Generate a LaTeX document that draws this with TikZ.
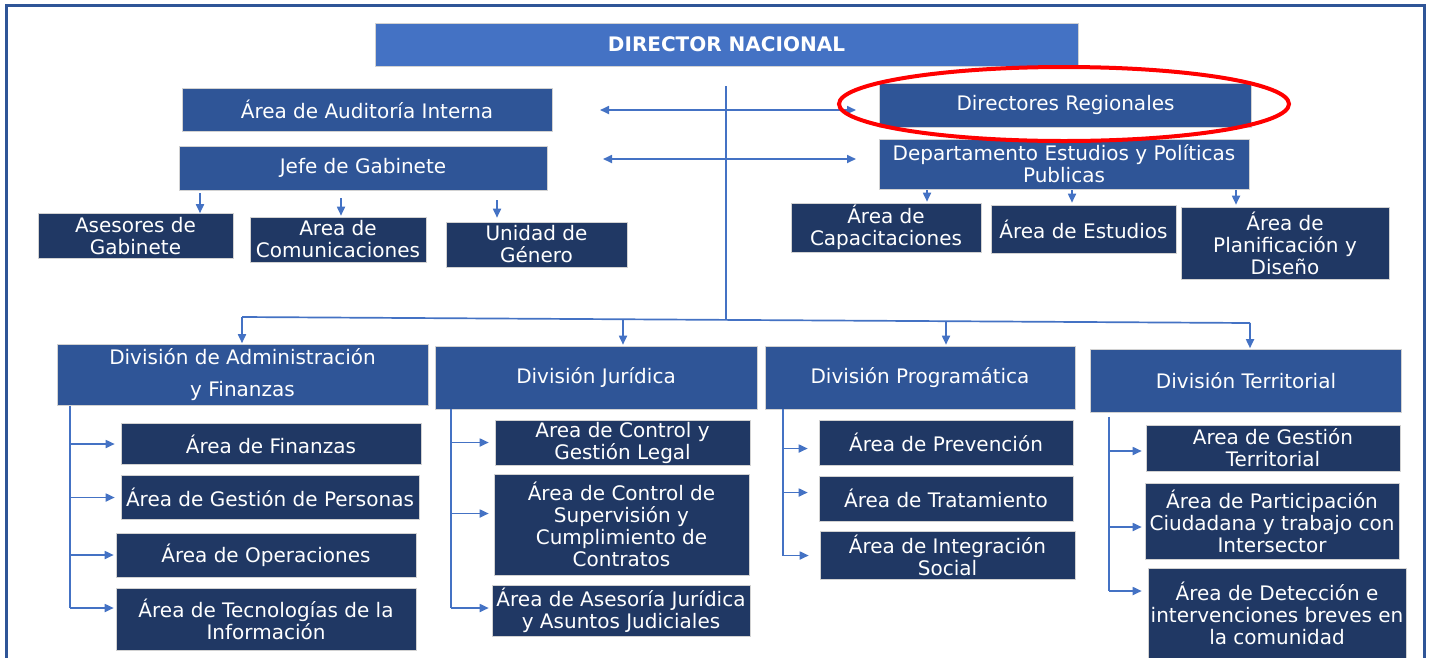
\documentclass[tikz,border=0pt]{standalone}
\usepackage{fontspec}
\setmainfont{DejaVu Sans}
\usetikzlibrary{arrows.meta,calc}
\definecolor{dirblue}{HTML}{4472C4}
\definecolor{midblue}{HTML}{2F5597}
\definecolor{darkblue}{HTML}{203864}
\definecolor{lineblue}{HTML}{4472C4}
\definecolor{frameblue}{HTML}{2F5597}
\tikzset{
  bx/.style={fill=#1, draw=gray!35, line width=0.6pt, text=white, align=center,
    inner sep=0pt, font=\fontsize{20pt}{22pt}\selectfont},
  ln/.style={draw=lineblue, line width=1.7pt},
  arr/.style={ln, -{Triangle[length=9pt,width=8pt]}},
  arrb/.style={ln, {Triangle[length=9pt,width=8pt]}-{Triangle[length=9pt,width=8pt]}},
}
\begin{document}
\begin{tikzpicture}[x=1pt,y=-1pt]
\useasboundingbox (0,0) rectangle (1429,657);
\fill[white] (0,0) rectangle (1429,657);
% frame
\draw[frameblue, line width=3pt] (6,700) -- (6,5) -- (1424,5) -- (1424,700);

% top level
\node[bx=dirblue, minimum width=703pt, minimum height=43pt, font=\fontsize{20pt}{22pt}\selectfont\bfseries] (dir) at (726.5,44.5) {DIRECTOR NACIONAL};
\node[bx=midblue, minimum width=370pt, minimum height=43pt] (aud) at (367,109.5) {Área de Auditoría Interna};
\node[bx=midblue, minimum width=368pt, minimum height=44pt] (jefe) at (363,168) {Jefe de Gabinete};
\node[bx=midblue, minimum width=372pt, minimum height=44pt] (dr) at (1065.5,105) {Directores Regionales};
\node[bx=midblue, minimum width=370pt, minimum height=50pt] (dep) at (1064,164) {Departamento Estudios y Políticas\\Publicas};

% under jefe
\node[bx=darkblue, minimum width=195pt, minimum height=45pt] (ase) at (135.5,236) {Asesores de\\Gabinete};
\node[bx=darkblue, minimum width=176pt, minimum height=45pt] (com) at (338,239.5) {Area de\\Comunicaciones};
\node[bx=darkblue, minimum width=181pt, minimum height=45pt] (gen) at (536.5,244.5) {Unidad de\\Género};

% under dep
\node[bx=darkblue, minimum width=190pt, minimum height=49pt] (cap) at (886,227.5) {Área de\\Capacitaciones};
\node[bx=darkblue, minimum width=185pt, minimum height=48pt] (est) at (1083.5,229) {Área de Estudios};
\node[bx=darkblue, minimum width=208pt, minimum height=72pt] (pla) at (1285,243) {Área de\\Planificación y\\Diseño};

% divisions
\node[bx=midblue, minimum width=371pt, minimum height=61pt, font=\fontsize{20pt}{32pt}\selectfont] (daf) at (242.5,375) {División de Administración\\y Finanzas};
\node[bx=midblue, minimum width=322pt, minimum height=63pt] (dju) at (596,377.5) {División Jurídica};
\node[bx=midblue, minimum width=310pt, minimum height=63pt] (dpr) at (920,377.5) {División Programática};
\node[bx=midblue, minimum width=311pt, minimum height=63pt] (dte) at (1246,381) {División Territorial};

% DAF areas
\node[bx=darkblue, minimum width=300pt, minimum height=41pt] (fin) at (271,444) {Área de Finanzas};
\node[bx=darkblue, minimum width=298pt, minimum height=44pt] (per) at (270,497.5) {Área de Gestión de Personas};
\node[bx=darkblue, minimum width=300pt, minimum height=44pt] (ope) at (266,555) {Área de Operaciones};
\node[bx=darkblue, minimum width=300pt, minimum height=62pt] (tec) at (266,619) {Área de Tecnologías de la\\Información};

% Juridica areas
\node[bx=darkblue, minimum width=255pt, minimum height=45pt] (cgl) at (622.5,442.5) {Area de Control y\\Gestión Legal};
\node[bx=darkblue, minimum width=255pt, minimum height=101pt] (csc) at (621.5,524.5) {Área de Control de\\Supervisión y\\Cumplimiento de\\Contratos};
\node[bx=darkblue, minimum width=258pt, minimum height=51pt] (aaj) at (621,610.5) {Área de Asesoría Jurídica\\y Asuntos Judiciales};

% Programatica areas
\node[bx=darkblue, minimum width=254pt, minimum height=45pt] (pre) at (946,442.5) {Área de Prevención};
\node[bx=darkblue, minimum width=254pt, minimum height=45pt] (tra) at (946,498.5) {Área de Tratamiento};
\node[bx=darkblue, minimum width=255pt, minimum height=48pt] (int) at (947.5,555.5) {Área de Integración\\Social};

% Territorial areas
\node[bx=darkblue, minimum width=254pt, minimum height=46pt] (gte) at (1273,448) {Area de Gestión\\Territorial};
\node[bx=darkblue, minimum width=254pt, minimum height=76pt] (par) at (1272,521) {Área de Participación\\Ciudadana y trabajo con\\Intersector};
\node[bx=darkblue, minimum width=258pt, minimum height=90pt] (det) at (1277,613) {Área de Detección e\\intervenciones breves en\\la comunidad};

% central trunk and bus
\coordinate (ctop) at (726,86);
\coordinate (busL) at (242,317);
\coordinate (busR) at (1250,323);
\coordinate (bD) at (242,317);
\coordinate (bJ) at (623,319.3);
\coordinate (bC) at (726,320);
\coordinate (bP) at (946,321.2);
\draw[ln] (ctop) -- (bC);
\draw[ln] (busL) -- (busR);
\draw[arr, shorten >=1pt] (bD) -- (bD |- daf.north);
\draw[arr, shorten >=1pt] (bJ) -- (bJ |- dju.north);
\draw[arr, shorten >=1pt] (bP) -- (bP |- dpr.north);
\draw[arr, shorten >=1pt] (busR) -- (busR |- dte.north);

% side double arrows
\coordinate (a1L) at (600,110);
\coordinate (a1R) at (856,110);
\coordinate (a2L) at (603,159);
\coordinate (a2R) at (856,159);
\draw[arrb] (a1L) -- (a1R);
\draw[arrb] (a2L) -- (a2R);

% jefe sub arrows
\draw[arr, shorten <=3pt] ([xshift=64.5pt]ase.north |- jefe.south) -- ([xshift=64.5pt]ase.north);
\draw[arr, shorten <=8pt, shorten >=1pt] ([xshift=3pt]com.north |- jefe.south) -- ([xshift=3pt]com.north);
\draw[arr, shorten <=10pt, shorten >=4pt] ([xshift=-39.5pt]gen.north |- jefe.south) -- ([xshift=-39.5pt]gen.north);

% dep sub arrows
\draw[arr, shorten <=1pt, shorten >=1pt] ([xshift=41pt]cap.north |- dep.south) -- ([xshift=41pt]cap.north);
\draw[arr, shorten <=1pt, shorten >=2pt] ([xshift=-11.5pt]est.north |- dep.south) -- ([xshift=-11.5pt]est.north);
\draw[arr, shorten <=1pt, shorten >=2pt] ([xshift=-49pt]pla.north |- dep.south) -- ([xshift=-49pt]pla.north);

% DAF branch
\coordinate (v1) at ([xshift=13pt]daf.south west);
\coordinate (tecA) at ([yshift=11pt]tec.west);
\draw[ln] (v1) -- (v1 |- tecA);
\draw[arr, shorten >=6pt] (v1 |- fin.west) -- (fin.west);
\draw[arr, shorten >=6pt] (v1 |- per.west) -- (per.west);
\draw[arr, shorten >=2pt] (v1 |- ope.west) -- (ope.west);
\draw[arr, shorten >=2pt] (v1 |- tecA) -- (tecA);

% Juridica branch
\coordinate (v2) at ([xshift=16pt]dju.south west);
\coordinate (cscA) at ([yshift=11pt]csc.west);
\coordinate (aajA) at ([yshift=2.5pt]aaj.west);
\draw[ln] (v2) -- (v2 |- aajA);
\draw[arr, shorten >=6pt] (v2 |- cgl.west) -- (cgl.west);
\draw[arr, shorten >=5pt] (v2 |- cscA) -- (cscA);
\draw[arr, shorten >=3pt] (v2 |- aajA) -- (aajA);

% Programatica branch
\coordinate (v3) at ([xshift=18pt]dpr.south west);
\coordinate (preA) at ([yshift=-6pt]pre.west);
\coordinate (traA) at ([yshift=6pt]tra.west);
\draw[ln] (v3) -- (v3 |- int.west);
\draw[arr, shorten >=11pt] (v3 |- preA) -- (preA);
\draw[arr, shorten >=11pt] (v3 |- traA) -- (traA);
\draw[arr, shorten >=11pt] (v3 |- int.west) -- (int.west);

% Territorial branch
\coordinate (v4) at ([xshift=19pt,yshift=-4pt]dte.south west);
\coordinate (gteA) at ([yshift=-3pt]gte.west);
\coordinate (parA) at ([yshift=-6pt]par.west);
\coordinate (detA) at ([yshift=22pt]det.west);
\draw[ln] (v4) -- (v4 |- detA);
\draw[arr, shorten >=4pt] (v4 |- gteA) -- (gteA);
\draw[arr, shorten >=3pt] (v4 |- parA) -- (parA);
\draw[arr, shorten >=6pt] (v4 |- detA) -- (detA);

% highlight
\draw[red, line width=4pt] (1064,104) ellipse [x radius=225pt, y radius=37pt];
\end{tikzpicture}
\end{document}
